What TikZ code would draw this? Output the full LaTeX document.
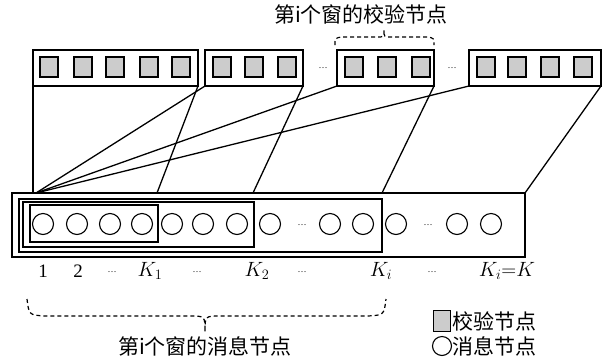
\documentclass[tikz,border=0pt]{standalone}
\usepackage{fontspec}
\setmainfont{Liberation Serif}
\newfontfamily\cjk{Noto Sans CJK SC}
\begin{document}
\begin{tikzpicture}[x=1bp,y=-1bp,
  chk/.style={draw,line width=1.3bp,fill=gray!40,minimum width=18bp,minimum height=20bp,inner sep=0,outer sep=0},
  msg/.style={draw,circle,line width=1.1bp,minimum size=21bp,inner sep=0,outer sep=0},
  grp/.style={draw,line width=1.3bp,inner sep=0,outer sep=0,anchor=north west},
  link/.style={line width=1.3bp},
  brace/.style={dashed,line width=1.2bp,dash pattern=on 4bp off 3bp},
  lbl/.style={font=\fontsize{19bp}{21bp}\selectfont,inner sep=0},
  dots/.style={font=\fontsize{9bp}{10bp}\selectfont,inner sep=0},
  cn/.style={font=\fontsize{21bp}{24bp}\selectfont\cjk,inner sep=0}]
\useasboundingbox (0,0) rectangle (605,359);
% top check-node windows
\node[grp,minimum width=165bp,minimum height=36bp] (b1) at (33,50) {};
\node[grp,minimum width=98bp,minimum height=36bp] (b2) at (205,50) {};
\node[grp,minimum width=97bp,minimum height=36bp] (b3) at (337,50) {};
\node[grp,minimum width=132bp,minimum height=36bp] (b4) at (469,50) {};
\foreach \x [count=\i] in {49,83,115,149,181,222,254,287,354,387,421,486,517,550,583}
  \node[chk] (c\i) at (\x,67) {};
\node[dots] (td1) at (323,68) {\ldots};
\node[dots] (td2) at (452,68) {\ldots};
% message row
\node[grp,line width=1.6bp,minimum width=513bp,minimum height=64bp] (ob) at (12,193) {};
\node[grp,minimum width=363bp,minimum height=53bp] (wi) at (19,199) {};
\node[grp,minimum width=231bp,minimum height=45bp] (w2) at (23,202) {};
\node[grp,minimum width=128bp,minimum height=37bp] (w1) at (30,205) {};
\foreach \x [count=\i] in {43,77,110,142,172,203,237,270,330,363,396,457,491}
  \node[msg] (m\i) at (\x,224) {};
\node[dots] (md1) at (302,225) {\ldots};
\node[dots] (md2) at (428,225) {\ldots};
% connection points on the message row
\coordinate (p1) at (33,193);
\coordinate (fan) at (36,193);
\coordinate (k1) at (157,193);
\coordinate (k2) at (253,193);
\coordinate (ki) at (382,193);
\coordinate (kk) at (525,193);
\draw[link] (b1.south west) -- (p1);
\draw[link] (b1.south east) -- (k1);
\draw[link] (b2.south west) -- (fan);
\draw[link] (b2.south east) -- (k2);
\draw[link] (b3.south west) -- (fan);
\draw[link] (b3.south east) -- (ki);
\draw[link] (b4.south west) -- (fan);
\draw[link] (b4.south east) -- (kk);
% index labels
\node[lbl] (l1) at (43,271) {1};
\node[lbl] (l2) at (78,271) {2};
\node[dots] (l3) at (112,272) {\ldots};
\node[lbl] (l4) at (150,271) {$K_{1}$};
\node[dots] (l5) at (197,272) {\ldots};
\node[lbl] (l6) at (257,271) {$K_{2}$};
\node[dots] (l7) at (302,272) {\ldots};
\node[lbl] (l8) at (381,271) {$K_{i}$};
\node[dots] (l9) at (432,272) {\ldots};
\node[lbl] (l10) at (507,271) {$K_{i}{=}K$};
% braces
\draw[brace] (335,45) .. controls (335,38) .. (342,37) -- (377,37) .. controls (384,37) .. (384,30)
  .. controls (384,37) .. (391,37) -- (427,37) .. controls (434,38) .. (434,45);
\draw[brace] (27,299) .. controls (29,315) .. (45,316) -- (190,316) .. controls (205,316) .. (205,332)
  .. controls (205,316) .. (220,316) -- (368,316) .. controls (384,315) .. (386,299);
\node[cn] (t1) at (361,14) {第\textit{i}个窗的校验节点};
\node[cn] (t2) at (205,346) {第\textit{i}个窗的消息节点};
% legend
\node[chk,minimum height=21bp,minimum width=17bp] (lg1) at (442,321) {};
\node[cn,anchor=west] (lt1) at (452,321) {校验节点};
\node[msg,minimum size=19bp] (lg2) at (442,346) {};
\node[cn,anchor=west] (lt2) at (452,346) {消息节点};
\end{tikzpicture}
\end{document}
